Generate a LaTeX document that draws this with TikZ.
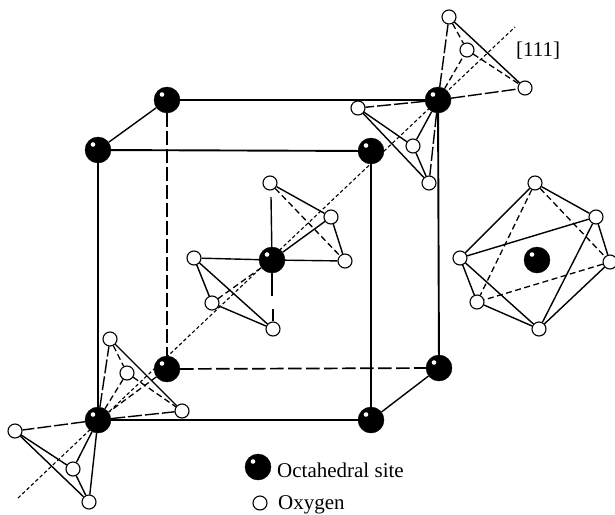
\documentclass[tikz,border=0pt]{standalone}
\usepackage{fontspec}
\setmainfont{Liberation Serif}
\usepackage{xcolor}
\usetikzlibrary{arrows.meta,positioning,calc,backgrounds}
\begin{document}
\begin{tikzpicture}[
  x=1pt,y=-1pt,
  oct/.style={circle,fill=black,draw=black,inner sep=0pt,minimum size=26pt,
    path picture={\fill[white] ($(path picture bounding box.center)+(-5pt,5.5pt)$) circle (2.3pt);}},
  oxy/.style={circle,draw=black,fill=white,line width=1.1pt,inner sep=0pt,minimum size=14pt},
  bond/.style={line width=1.4pt},
  hid/.style={line width=1.4pt,dash pattern=on 14pt off 3pt},
  back/.style={line width=1.3pt,dash pattern=on 6pt off 3.5pt},
  cube/.style={line width=1.9pt},
  hcube/.style={line width=1.7pt,dash pattern=on 13.5pt off 4.5pt},
  axis/.style={line width=1.1pt,dash pattern=on 3.5pt off 2.5pt},
  lab/.style={font=\fontsize{21}{23}\selectfont,inner sep=0pt,anchor=base west}]
  \useasboundingbox (0,0) rectangle (615,514);

  % cube sites
  \node[oct] (a) at (167,100) {};
  \node[oct] (b) at (438,100) {};
  \node[oct] (c) at (98,150) {};
  \node[oct] (d) at (371,151) {};
  \node[oct] (e) at (167,369) {};
  \node[oct] (f) at (439,368) {};
  \node[oct] (g) at (98,420) {};
  \node[oct] (h) at (371,420) {};
  \node[oct] (m) at (272,260) {};

  % oxygens, top
  \node[oxy] (t1) at (449,17) {};
  \node[oxy] (t2) at (467,50) {};
  \node[oxy] (t3) at (525,88) {};
  \node[oxy] (t4) at (358,108) {};
  \node[oxy] (t5) at (413,146) {};
  \node[oxy] (t6) at (429,183) {};
  % oxygens, bottom
  \node[oxy] (u1) at (110,339) {};
  \node[oxy] (u2) at (127,373) {};
  \node[oxy] (u3) at (182,411) {};
  \node[oxy] (u4) at (15,431) {};
  \node[oxy] (u5) at (73,469) {};
  \node[oxy] (u6) at (89,502) {};
  % oxygens, centre
  \node[oxy] (c1) at (270,183) {};
  \node[oxy] (c2) at (331,217) {};
  \node[oxy] (c3) at (345,261) {};
  \node[oxy] (c4) at (194,258) {};
  \node[oxy] (c5) at (212,303) {};
  \node[oxy] (c6) at (273,329) {};
  % separate octahedron
  \node[oct] (s) at (537,260) {};
  \node[oxy] (o1) at (535,183) {};
  \node[oxy] (o2) at (596,217) {};
  \node[oxy] (o3) at (610,262) {};
  \node[oxy] (o4) at (460,258) {};
  \node[oxy] (o5) at (477,302) {};
  \node[oxy] (o6) at (539,329) {};

  \coordinate (ax0) at (18,498);
  \coordinate (ax1) at (515,27);
  \coordinate (c1g) at (271,197);
  \coordinate (c6g) at (273,309);
  \coordinate (m6g) at (272,296);

  \begin{pgfonlayer}{background}
  \draw[axis] (ax0)--(ax1);
  \draw[cube] (a)--(b); \draw[cube] (b)--(f); \draw[cube] (c)--(d);
  \draw[cube] (d)--(h); \draw[cube] (c)--(g); \draw[cube] (g)--(h);
  \draw[bond] (c)--(a); \draw[bond] (h)--(f);
  \draw[hcube] (a)--(e); \draw[hcube] (e)--(f);
  \draw[back] (e)--(g);

  % top tetrahedra
  \draw[hid] (b)--(t1); \draw[back] (b)--(t2); \draw[hid] (b)--(t3);
  \draw[bond] (t1)--(t3); \draw[back] (t1)--(t2); \draw[back] (t2)--(t3);
  \draw[hid] (b)--(t4); \draw[bond] (b)--(t5); \draw[hid] (b)--(t6);
  \draw[bond] (t4)--(t5); \draw[bond] (t4)--(t6); \draw[bond] (t5)--(t6);
  % bottom tetrahedra
  \draw[hid] (g)--(u1); \draw[back] (g)--(u2); \draw[hid] (g)--(u3);
  \draw[bond] (u1)--(u3); \draw[back] (u1)--(u2); \draw[back] (u2)--(u3);
  \draw[hid] (g)--(u4); \draw[bond] (g)--(u5); \draw[bond] (g)--(u6);
  \draw[bond] (u4)--(u5); \draw[bond] (u4)--(u6); \draw[bond] (u5)--(u6);
  % centre tetrahedra
  \draw[bond] (m)--(c1g); \draw[bond] (m)--(c2); \draw[bond] (m)--(c3);
  \draw[bond] (c1)--(c2); \draw[back] (c1)--(c3); \draw[bond] (c2)--(c3);
  \draw[bond] (m)--(c4); \draw[back] (m)--(c5); \draw[bond] (m)--(m6g); \draw[bond] (c6g)--(c6);
  \draw[bond] (c4)--(c5); \draw[bond] (c4)--(c6); \draw[bond] (c5)--(c6);
  % octahedron
  \draw[bond] (o1)--(o2); \draw[bond] (o1)--(o4); \draw[bond] (o2)--(o4);
  \draw[bond] (o2)--(o3); \draw[bond] (o2)--(o6); \draw[bond] (o3)--(o6);
  \draw[bond] (o4)--(o5); \draw[bond] (o4)--(o6); \draw[bond] (o5)--(o6);
  \draw[back] (o1)--(o3); \draw[back] (o1)--(o5); \draw[back] (o3)--(o5);
  \end{pgfonlayer}

  \node[lab] (dir) at (516,56) {[111]};
  \node[oct] (legoct) at (258,467) {};
  \node[lab] (legoctt) at (277,477) {Octahedral site};
  \node[oxy] (legoxy) at (260,503) {};
  \node[lab] (legoxyt) at (278,509) {Oxygen};
\end{tikzpicture}
\end{document}
